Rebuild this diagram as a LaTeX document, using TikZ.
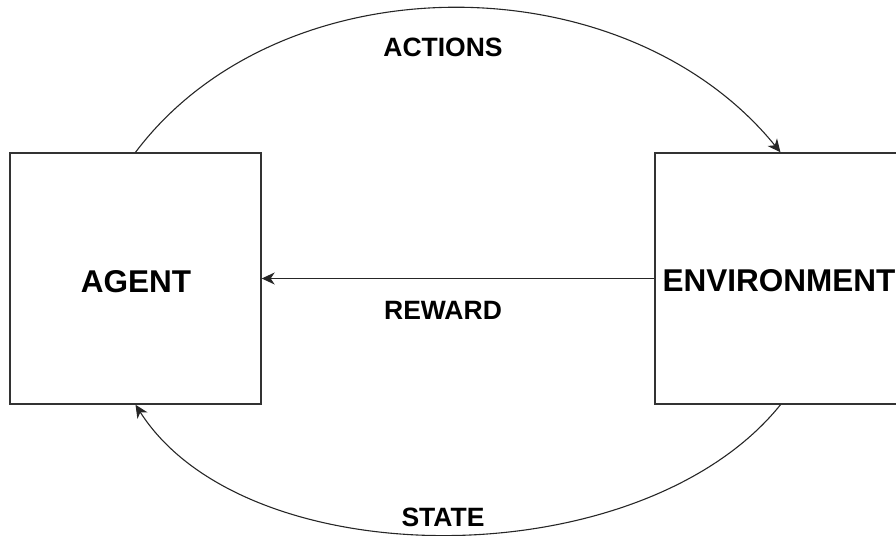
\documentclass[tikz,border=0pt]{standalone}
\usepackage{fontspec}
\setmainfont{Liberation Sans}
\usetikzlibrary{arrows.meta}
\begin{document}
\begin{tikzpicture}[x=1pt,y=-1pt,
  block/.style={draw=black!80, line width=1.4pt, minimum width=251pt, minimum height=251pt, inner sep=0pt},
  bigtext/.style={font=\fontsize{31.5}{36}\selectfont\bfseries, inner sep=0pt},
  label/.style={font=\fontsize{26.5}{30}\selectfont\bfseries, inner sep=0pt},
  flow/.style={draw=black!85, line width=1.1pt, -{Stealth[length=13pt, width=12pt, inset=4pt]}}
]
  \useasboundingbox (0,0) rectangle (896,535);
  \begin{scope}
    \clip (0,0) rectangle (896,535);
    % the two blocks
    \node[block] (agent) at (135.5,278.5) {};
    \node[block] (env) at (780.5,278.5) {};
    \node[bigtext] (agenttext) at (136,282) {AGENT};
    \node[bigtext] (envtext) at (779,281) {ENVIRONMENT};

    % actions: agent -> environment over the top
    \draw[flow] (agent.north) .. controls (280,-40) and (624,-40) .. (env.north);
    % reward: environment -> agent straight across
    \draw[flow] (env.west) -- (agent.east);
    % state: environment -> agent along the bottom
    \draw[flow] (env.south) .. controls (641,578) and (246,578) .. (agent.south);

    \node[label] (actions) at (443,47) {ACTIONS};
    \node[label] (reward) at (443,310) {REWARD};
    \node[label] (state) at (443,517) {STATE};
  \end{scope}
\end{tikzpicture}
\end{document}
